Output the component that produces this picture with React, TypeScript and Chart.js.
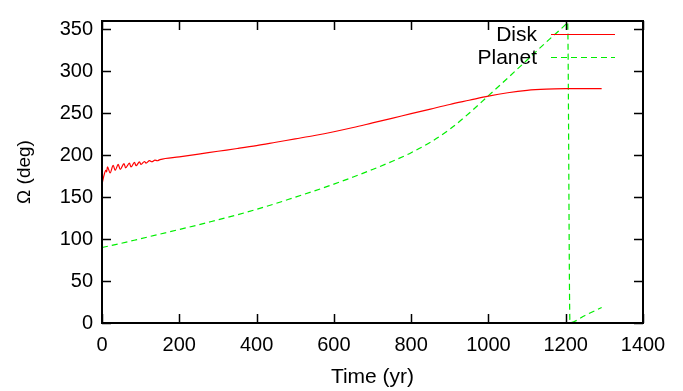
import React, { useEffect, useRef } from "react";
import { Chart, registerables } from "chart.js";

Chart.register(...registerables);

// ---- Data ----
const diskTime = [
  0, 4, 10, 12, 14, 21, 29, 34, 42, 47, 57, 61, 71, 75, 84, 88, 97, 101, 110, 114, 123, 129,
  137, 143, 150, 200, 250, 300, 350, 400, 450, 500, 550, 600, 650, 700, 750, 800, 850, 900, 950,
  1000, 1050, 1100, 1150, 1200, 1250, 1293,
];
const diskOmega = [
  165, 174, 182, 180, 186, 179, 188, 182, 189, 183, 190, 185, 190.5, 186, 191.5, 187.5, 192, 189,
  192.5, 190.5, 193.5, 192.2, 194.2, 193.4, 194.8, 198, 201.3, 204.7, 208, 211.5, 215.5, 219.5,
  223.5, 228, 233, 238.5, 244, 249.5, 255, 260.5, 265.5, 270.5, 274.5, 277.3, 278.7, 279.3, 279.5,
  279.5,
];

const planetTime = [
  0, 50, 100, 150, 200, 250, 300, 350, 400, 450, 500, 550, 600, 650, 700, 750, 800, 850, 900,
  950, 1000, 1050, 1100, 1150, 1200, 1205, 1211, 1250, 1293,
];
const planetOmega = [
  90, 95, 100.5, 106, 111.5, 117, 123, 129, 135.5, 142.5, 150, 157.5, 165.5, 174, 183, 192.5, 203,
  215.5, 231, 250, 271, 292, 313.5, 335, 356, 358.5, 0.5, 9, 18.5,
];

const xTicks = [0, 200, 400, 600, 800, 1000, 1200, 1400];
const yTicks = [0, 50, 100, 150, 200, 250, 300, 350];
const seriesNames = ["Disk", "Planet"];
const xTitle = "Time (yr)";
const yTitle = "\u03A9 (deg)";

const FONT = "'Liberation Sans', Arial, Helvetica, sans-serif";
const RED = "#ff0000";
const GREEN = "#00ee00";

const framePlugin = {
  id: "gnuplotFrame",
  afterDatasetsDraw(chart: any) {
    const { ctx, chartArea } = chart;
    const { left, right, top, bottom } = chartArea;
    const xs = chart.scales.x;
    const ys = chart.scales.y;
    const tl = 9;
    ctx.save();
    ctx.strokeStyle = "#000";
    ctx.lineWidth = 1.5;
    ctx.beginPath();
    xTicks.forEach((v) => {
      const px = Math.round(xs.getPixelForValue(v)) + 0.5;
      ctx.moveTo(px, bottom);
      ctx.lineTo(px, bottom - tl);
      ctx.moveTo(px, top);
      ctx.lineTo(px, top + tl);
    });
    yTicks.forEach((v) => {
      const py = Math.round(ys.getPixelForValue(v)) + 0.5;
      ctx.moveTo(left, py);
      ctx.lineTo(left + tl, py);
      ctx.moveTo(right, py);
      ctx.lineTo(right - tl, py);
    });
    ctx.stroke();
    ctx.lineWidth = 2;
    ctx.strokeRect(left, top, right - left, bottom - top);

    // legend (gnuplot style: right-aligned text, then sample line)
    const colors = [RED, GREEN];
    const dashes = [[], [6, 4]];
    const rows = [34.5, 57.5];
    ctx.font = `21px ${FONT}`;
    ctx.fillStyle = "#000";
    ctx.textAlign = "right";
    ctx.textBaseline = "middle";
    seriesNames.forEach((name, i) => {
      ctx.fillText(name, 537, rows[i] + 1);
      ctx.beginPath();
      ctx.setLineDash(dashes[i]);
      ctx.strokeStyle = colors[i];
      ctx.lineWidth = 1.2;
      ctx.moveTo(551, rows[i]);
      ctx.lineTo(615, rows[i]);
      ctx.stroke();
    });
    ctx.setLineDash([]);
    ctx.restore();
  },
};

export default function App() {
  const ref = useRef<HTMLCanvasElement | null>(null);

  useEffect(() => {
    if (!ref.current) return;
    const chart = new Chart(ref.current, {
      type: "line",
      data: {
        datasets: [
          {
            label: seriesNames[0],
            data: diskTime.map((t, i) => ({ x: t, y: diskOmega[i] })),
            borderColor: RED,
            borderWidth: 1.2,
            pointRadius: 0,
            cubicInterpolationMode: "monotone",
            fill: false,
          },
          {
            label: seriesNames[1],
            data: planetTime.map((t, i) => ({ x: t, y: planetOmega[i] })),
            borderColor: GREEN,
            borderWidth: 1.2,
            borderDash: [6, 4],
            pointRadius: 0,
            cubicInterpolationMode: "monotone",
            fill: false,
          },
        ],
      },
      options: {
        animation: false,
        responsive: false,
        devicePixelRatio: 1,
        layout: { padding: { top: 14, right: 40, left: 0, bottom: 0 } },
        plugins: { legend: { display: false }, tooltip: { enabled: false } },
        scales: {
          x: {
            type: "linear",
            min: 0,
            max: 1400,
            afterBuildTicks: (s: any) => {
              s.ticks = xTicks.map((v) => ({ value: v }));
            },
            afterFit: (s: any) => {
              s.height = 68;
            },
            grid: { display: false, drawTicks: false },
            border: { display: false },
            ticks: {
              padding: 10,
              color: "#000",
              font: { family: FONT, size: 20 },
              maxRotation: 0,
              autoSkip: false,
              callback: (v: any) => String(v),
            },
            title: {
              display: true,
              text: xTitle,
              color: "#000",
              font: { family: FONT, size: 21 },
              padding: { top: 0, bottom: 1 },
            },
          },
          y: {
            type: "linear",
            min: 0,
            max: 360,
            afterBuildTicks: (s: any) => {
              s.ticks = yTicks.map((v) => ({ value: v }));
            },
            afterFit: (s: any) => {
              s.width = 102;
            },
            grid: { display: false, drawTicks: false },
            border: { display: false },
            ticks: {
              padding: 9,
              color: "#000",
              font: { family: FONT, size: 20 },
              autoSkip: false,
              callback: (v: any) => String(v),
            },
            title: {
              display: true,
              text: yTitle,
              color: "#000",
              font: { family: FONT, size: 19 },
              padding: { top: 13, bottom: 0 },
            },
          },
        },
      },
      plugins: [framePlugin],
    } as any);
    return () => chart.destroy();
  }, []);

  return (
    <div style={{ position: "absolute", left: 0, top: 0, width: 683, height: 391, background: "#fff" }}>
      <canvas ref={ref} width={683} height={391} style={{ display: "block", width: 683, height: 391 }} />
    </div>
  );
}
